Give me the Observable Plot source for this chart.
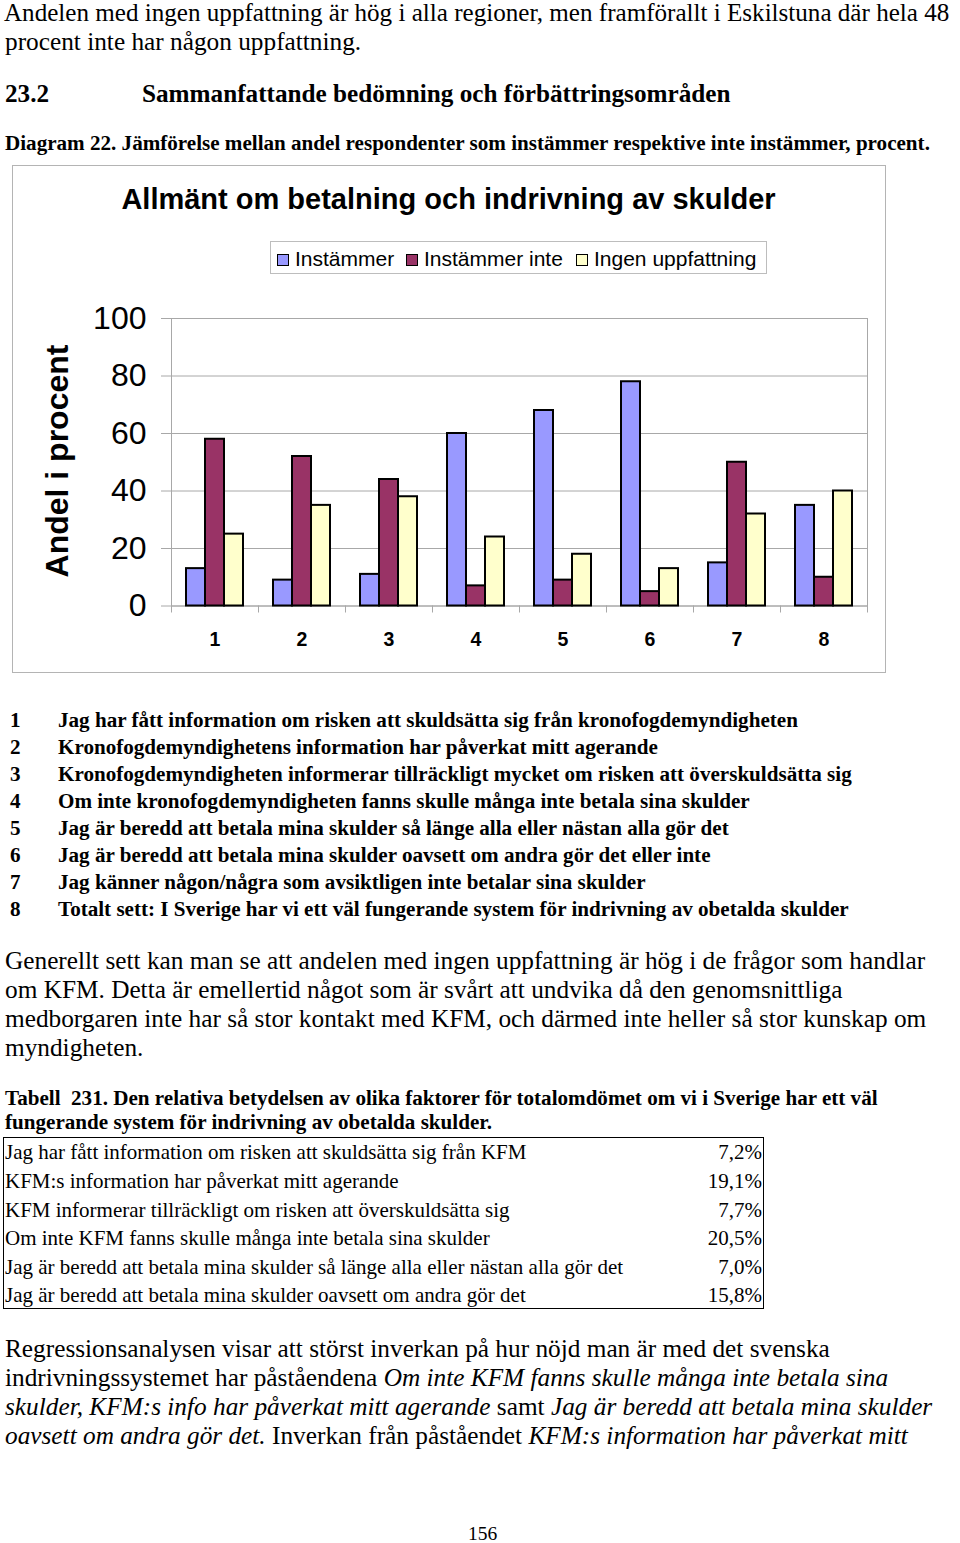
<!DOCTYPE html>
<html><head><meta charset="utf-8">
<script src="https://cdn.jsdelivr.net/npm/d3@7"></script>
<script src="https://cdn.jsdelivr.net/npm/@observablehq/plot@0.6"></script>
<style>
html,body{margin:0;padding:0;background:#fff;}
#page{position:relative;width:960px;height:1543px;overflow:hidden;color:#000;}
.t{position:absolute;white-space:nowrap;line-height:1;}
.serif{font-family:"Liberation Serif","Times New Roman",serif;}
.sans{font-family:"Liberation Sans",Arial,sans-serif;}
#chartbox{position:absolute;left:12px;top:165px;width:874px;height:508px;border:1.5px solid #b4b4b4;box-sizing:border-box;}
#legend{position:absolute;left:270px;top:241px;width:497px;height:33px;border:1px solid #bdbdbd;box-sizing:border-box;}
.sw{display:inline-block;width:12px;height:12px;border:1.5px solid #000;box-sizing:border-box;margin-right:6px;vertical-align:0px;}
#plotwrap{position:absolute;left:12px;top:290px;}
#tbl{position:absolute;left:3px;top:1137px;width:761px;height:172px;border:1.5px solid #000;box-sizing:border-box;}
</style></head>
<body><div id="page">
<div id="chartbox"></div>
<div id="legend"></div>
<div id="plotwrap"></div>
<div id="tbl"></div>
</div>
<script>
// ---- chart data ----
const categories = ["1","2","3","4","5","6","7","8"];
const series = ["Instämmer","Instämmer inte","Ingen uppfattning"];
const instammer = [13, 9, 11, 60, 68, 78, 15, 35];
const instammerInte = [58, 52, 44, 7, 9, 5, 50, 10];
const ingenUppfattning = [25, 35, 38, 24, 18, 13, 32, 40];
const yTicks = [0, 20, 40, 60, 80, 100];
const colors = ["#9999FF", "#993366", "#FFFFCC"];
const chartTitle = "Allmänt om betalning och indrivning av skulder";
const yTitle = "Andel i procent";

const statements = [
  "Jag har fått information om risken att skuldsätta sig från kronofogdemyndigheten",
  "Kronofogdemyndighetens information har påverkat mitt agerande",
  "Kronofogdemyndigheten informerar tillräckligt mycket om risken att överskuldsätta sig",
  "Om inte kronofogdemyndigheten fanns skulle många inte betala sina skulder",
  "Jag är beredd att betala mina skulder så länge alla eller nästan alla gör det",
  "Jag är beredd att betala mina skulder oavsett om andra gör det eller inte",
  "Jag känner någon/några som avsiktligen inte betalar sina skulder",
  "Totalt sett: I Sverige har vi ett väl fungerande system för indrivning av obetalda skulder"
];
const tableLabels = [
  "Jag har fått information om risken att skuldsätta sig från KFM",
  "KFM:s information har påverkat mitt agerande",
  "KFM informerar tillräckligt om risken att överskuldsätta sig",
  "Om inte KFM fanns skulle många inte betala sina skulder",
  "Jag är beredd att betala mina skulder så länge alla eller nästan alla gör det",
  "Jag är beredd att betala mina skulder oavsett om andra gör det"
];
const tableValues = ["7,2%","19,1%","7,7%","20,5%","7,0%","15,8%"];

// ---- page text ----
const page = document.getElementById("page");
function put(html, x, baseline, size, cls, extra) {
  const d = document.createElement("div");
  d.className = "t " + cls;
  const asc = cls.includes("sans") ? 0.8465 : 0.8375;
  d.style.left = x + "px";
  d.style.top = (baseline - asc * size) + "px";
  d.style.fontSize = size + "px";
  if (extra) Object.assign(d.style, extra);
  d.innerHTML = html;
  page.appendChild(d);
  return d;
}
const P = 25.3, S = 21.1;
put("Andelen med ingen uppfattning är hög i alla regioner, men framförallt i Eskilstuna där hela 48", 4, 21.5, 25.1, "serif");
put("procent inte har någon uppfattning.", 5, 50, P, "serif");
put("23.2", 5, 102, 25.2, "serif", {fontWeight:"bold"});
put("Sammanfattande bedömning och förbättringsområden", 142, 102, 25.2, "serif", {fontWeight:"bold"});
put("Diagram 22. Jämförelse mellan andel respondenter som instämmer respektive inte instämmer, procent.", 5, 151, S, "serif", {fontWeight:"bold"});

// chart title
put(chartTitle, 448.5, 210, 29, "sans", {fontWeight:"bold", transform:"translateX(-50%)"});
// y title (rotated)
const yt = put(yTitle, 0, 0, 32, "sans", {fontWeight:"bold"});
yt.style.top = "0px"; yt.style.left = "0px";
yt.style.lineHeight = "32px";
yt.style.transformOrigin = "0 0";
{
  const w = yt.getBoundingClientRect().width;
  yt.style.transform = `translate(${57 - 16}px, ${461 + w/2}px) rotate(-90deg)`;
}

// legend (HTML, above the chart svg)
const lg = document.getElementById("legend");
const legendX = [6, 135, 305];
series.forEach((s, i) => {
  const it = document.createElement("div");
  it.className = "t sans";
  it.style.fontSize = "21px";
  it.style.left = legendX[i] + "px";
  it.style.top = "6px";
  it.innerHTML = `<span class="sw" style="background:${colors[i]}"></span>${s}`;
  lg.appendChild(it);
});

// statements list
statements.forEach((s, i) => {
  const b = 728 + i * 26.9;
  put(String(i + 1), 10, b, S, "serif", {fontWeight:"bold"});
  put(s, 58, b, S, "serif", {fontWeight:"bold"});
});

// paragraph
["Generellt sett kan man se att andelen med ingen uppfattning är hög i de frågor som handlar",
 "om KFM. Detta är emellertid något som är svårt att undvika då den genomsnittliga",
 "medborgaren inte har så stor kontakt med KFM, och därmed inte heller så stor kunskap om",
 "myndigheten."].forEach((l, i) => put(l, 5, 969 + i * 29, P, "serif"));

put("Tabell&nbsp; 231. Den relativa betydelsen av olika faktorer för totalomdömet om vi i Sverige har ett väl", 5, 1106, S, "serif", {fontWeight:"bold"});
put("fungerande system för indrivning av obetalda skulder.", 5, 1130, S, "serif", {fontWeight:"bold"});

// table
tableLabels.forEach((l, i) => {
  const b = 1160 + i * 28.6;
  put(l, 5, b, 21, "serif");
  put(tableValues[i], 762, b, 21, "serif", {transform:"translateX(-100%)"});
});

// last paragraph
[
 "Regressionsanalysen visar att störst inverkan på hur nöjd man är med det svenska",
 "indrivningssystemet har påståendena <i>Om inte KFM fanns skulle många inte betala sina</i>",
 "<i>skulder, KFM:s info har påverkat mitt agerande</i> samt <i>Jag är beredd att betala mina skulder</i>",
 "<i>oavsett om andra gör det.</i> Inverkan från påståendet <i>KFM:s information har påverkat mitt</i>"
].forEach((l, i) => put(l, 5, 1357 + i * 29, P, "serif"));

put("156", 482.5, 1540, 19.5, "serif", {transform:"translateX(-50%)"});

// ---- the chart ----
const valuesBySeries = [instammer, instammerInte, ingenUppfattning];
const data = categories.flatMap((c, i) => series.map((s, j) => ({cat: c, series: s, value: valuesBySeries[j][i]})));

const W = 874, H = 370, mL = 158, mR = 18, mT = 28, mB = 54.5;
const innerH = H - mT - mB;
const tickLen = 6;
const grey = "#a8a8a8";

const chart = Plot.plot({
  width: W,
  height: H,
  marginLeft: mL,
  marginRight: mR,
  marginTop: mT,
  marginBottom: mB,
  style: {fontFamily: "'Liberation Sans', Arial, sans-serif", background: "transparent", overflow: "visible", color: "#000"},
  fx: {domain: categories, padding: 0, label: null},
  x: {domain: series, paddingInner: 0, paddingOuter: 0.681, axis: null},
  y: {domain: [0, 100], label: null},
  color: {domain: series, range: colors},
  marks: [
    Plot.ruleY(yTicks, {stroke: grey, strokeWidth: 1}),
    // small category-boundary ticks under the baseline
    Plot.frame({anchor: "left", stroke: grey, insetTop: innerH, insetBottom: -tickLen}),
    Plot.frame({facet: "super", anchor: "right", stroke: grey, insetTop: innerH, insetBottom: -tickLen}),
    Plot.frame({facet: "super", stroke: grey, strokeWidth: 1}),
    Plot.axisY(yTicks, {tickSize: 10, tickPadding: 15, fontSize: 32, stroke: grey, label: null}),
    Plot.barY(data, {fx: "cat", x: "series", y: "value", fill: "series", stroke: "#000", strokeWidth: 2}),
    Plot.axisFx({anchor: "bottom", tickSize: 0, tickPadding: 26, fontSize: 19.5, fontWeight: "bold", label: null})
  ]
});
document.getElementById("plotwrap").appendChild(chart);
</script>
</body></html>
